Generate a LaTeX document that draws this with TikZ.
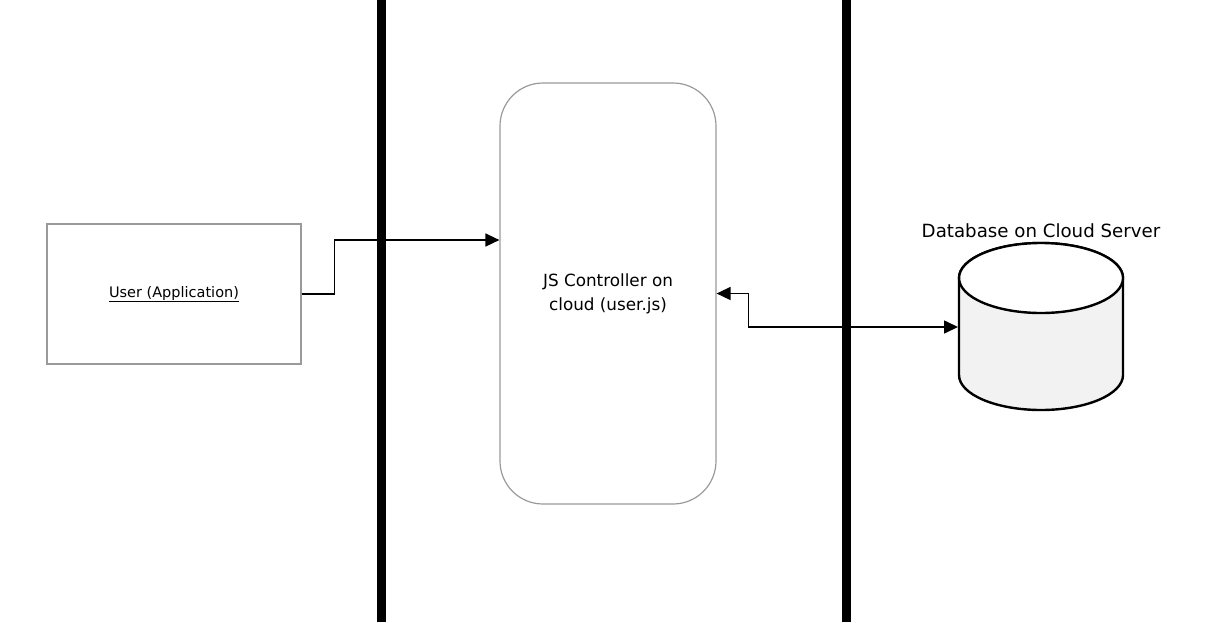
\documentclass[tikz,border=0pt]{standalone}
\usepackage{fontspec}
\setmainfont{DejaVu Sans}
\usetikzlibrary{arrows.meta,calc}
\definecolor{boxgray}{HTML}{9A9A9A}
\definecolor{dbgray}{HTML}{F2F2F2}
\tikzset{
  userbox/.style={draw=boxgray, line width=1.2pt, minimum width=254pt, minimum height=140pt, inner sep=0pt, font=\fontsize{14.5}{17}\selectfont},
  ctrlbox/.style={draw=boxgray, line width=1.2pt, rounded corners=43pt, minimum width=216pt, minimum height=421pt, inner sep=0pt, align=center, font=\fontsize{16.8}{24}\selectfont},
  conn/.style={line width=1.6pt, black},
  mytip/.tip={Triangle[length=14pt,width=13pt]},
  bar/.style={line width=9pt, black},
  dbline/.style={line width=2.4pt, black},
  lbl/.style={font=\fontsize{18.2}{21}\selectfont, inner sep=0pt}
}
\begin{document}
\begin{tikzpicture}[x=1pt,y=-1pt]
\useasboundingbox (0,0) rectangle (1214,622);
% nodes
\node[userbox] (user) at (174,294) {\underline{User (Application)}};
\node[ctrlbox] (js) at (608,293.5) {JS Controller on\\ cloud (user.js)};
% database cylinder
\filldraw[dbline, fill=dbgray] (959,278) -- (959,375)
  arc[start angle=180, end angle=360, x radius=82pt, y radius=35pt]
  -- (1123,278)
  arc[start angle=0, end angle=180, x radius=82pt, y radius=35pt] -- cycle;
\draw[dbline, fill=white] (1041,278) ellipse[x radius=82pt, y radius=35pt];
\coordinate (db) at (958,327);
\node[lbl] (dblabel) at (1041,231) {Database on Cloud Server};
% connectors
\draw[conn, -{mytip}] (user.east) -- ++(33,0) |- ([yshift=53.5pt]js.west);
\draw[conn, {mytip}-{mytip}] (js.east) -- ++(32,0) |- (db);
% swimlane bars
\coordinate (b1t) at (381,0);
\coordinate (b1b) at (381,622);
\coordinate (b2t) at (846,0);
\coordinate (b2b) at (846,622);
\draw[bar] (b1t) -- (b1b);
\draw[bar] (b2t) -- (b2b);
\end{tikzpicture}
\end{document}
